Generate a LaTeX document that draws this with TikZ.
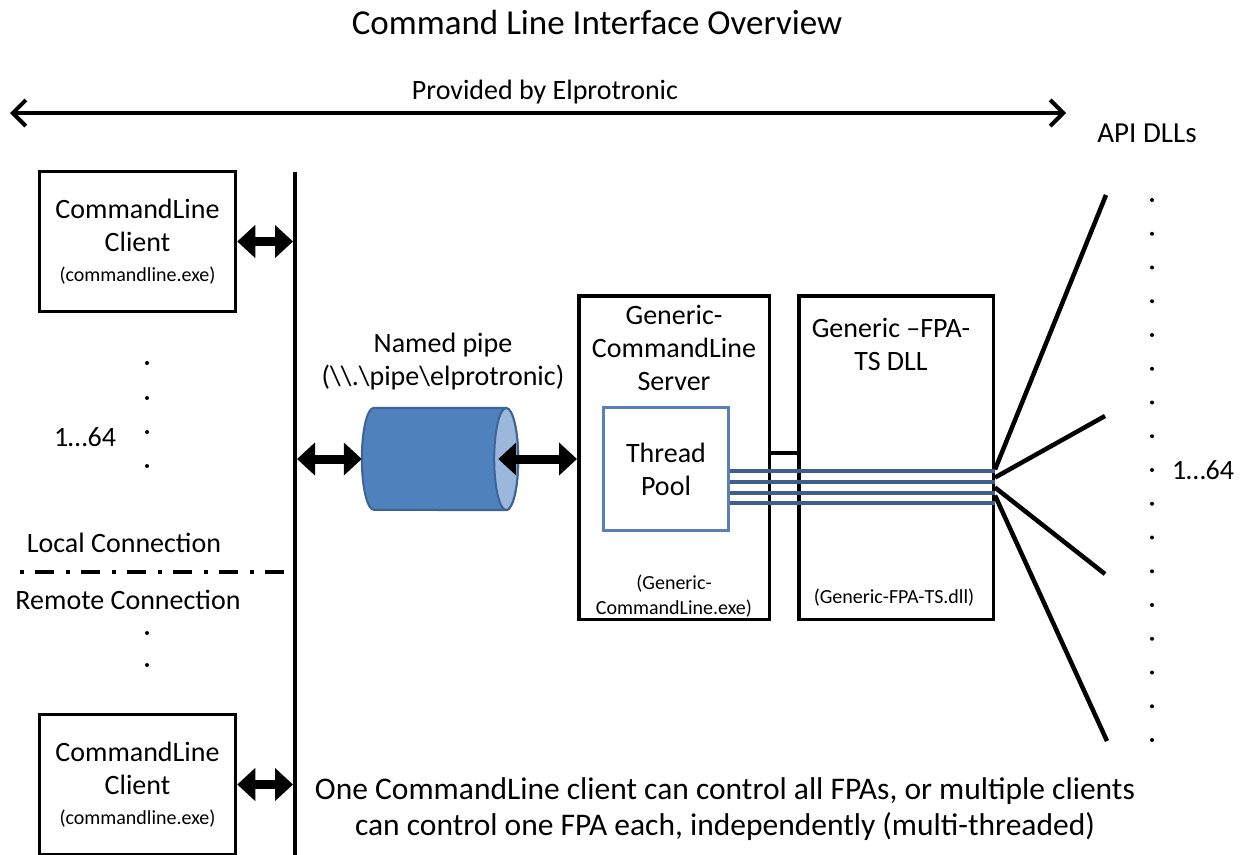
\documentclass[tikz,border=0pt]{standalone}
\usepackage{fontspec}
\setmainfont{Carlito}
\usepackage{xcolor}
\usetikzlibrary{arrows.meta,positioning}
\definecolor{pipeblue}{HTML}{4F81BD}
\definecolor{pipeline}{HTML}{3C6496}
\definecolor{pipelight}{HTML}{9BB8DC}
\definecolor{poolblue}{HTML}{5A80B8}
\definecolor{threadblue}{HTML}{3F5E8E}
\newcommand{\bigtxt}{\fontsize{28}{33}\selectfont}
\newcommand{\smalltxt}{\fontsize{20}{25}\selectfont}

\begin{document}
\begin{tikzpicture}[x=1pt,y=-1pt,font=\bigtxt]
	\tikzstyle{box}=[draw=black,line width=3.5pt,inner sep=0pt]
	\tikzstyle{client}=[box,minimum width=196pt,minimum height=140pt,align=center]
	\tikzstyle{bigbox}=[box,minimum height=323.5pt]
	\tikzstyle{fat}=[line width=9pt,{Triangle[length=18pt,width=32pt]}-{Triangle[length=18pt,width=32pt]}]
	\tikzstyle{thread}=[threadblue,line width=3.5pt]
	\tikzstyle{fan}=[line width=4.5pt]
	\useasboundingbox (0,0) rectangle (1249,854);
	\clip (0,0) rectangle (1249,854);

	\node[font=\fontsize{35}{42}\selectfont] (title) at (597,22) {Command Line Interface Overview};
	\node (prov) at (545,92) {Provided by Elprotronic};
	\coordinate (pl) at (10,113);
	\coordinate (pr) at (1066,113);
	\draw[line width=4pt,{Straight Barb[length=13pt,width=26pt]}-{Straight Barb[length=13pt,width=26pt]}] (pl) -- (pr);
	\node[font=\fontsize{29}{34}\selectfont] (api) at (1147,133) {API DLLs};

	\node[client] (cl1) at (137.5,241.5) {CommandLine\\Client\\[-3pt]{\smalltxt (commandline.exe)}};
	\node[client] (cl2) at (137.5,784.5) {CommandLine\\Client\\[-3pt]{\smalltxt (commandline.exe)}};
	\coordinate (bt) at (295,172);
	\coordinate (bb) at (295,860);
	\draw[line width=3.5pt] (bt) -- (bb);
	\draw[fat] (cl1.east) -- ([xshift=-2pt]cl1.east -| bt);
	\draw[fat] (cl2.east) -- ([xshift=-2pt]cl2.east -| bt);

	\foreach \y in {363,398,432,466,633,665}
		\fill (147,\y) circle (2pt);
	\node (n1) at (85,437) {1…64};
	\node (loc) at (124,543) {Local Connection};
	\coordinate (ll) at (20,572);
	\coordinate (lr) at (287,572);
	\draw[line width=4pt,dash pattern=on 4pt off 11pt on 19pt off 12pt] (ll) -- (lr);
	\node (rem) at (128,600) {Remote Connection};

	\node[align=center] (pipelbl) at (443,362) {Named pipe\\(\textbackslash\textbackslash.\textbackslash pipe\textbackslash elprotronic)};
	\node[minimum width=156pt,minimum height=102pt,inner sep=0pt] (pipe) at (440,459) {};
	\filldraw[fill=pipeblue,draw=pipeline,line width=2pt] ([xshift=-12pt]pipe.north east) -- ([xshift=12pt]pipe.north west)
		arc[start angle=270,end angle=90,x radius=12,y radius=51] -- ([xshift=-12pt]pipe.south east)
		arc[start angle=90,end angle=-90,x radius=12,y radius=51] -- cycle;
	\filldraw[fill=pipelight,draw=pipeline,line width=2pt] ([xshift=-12pt]pipe.east) ellipse[x radius=12,y radius=51];

	\node[bigbox,minimum width=190.5pt] (srv) at (674,457.5) {};
	\node[align=center,below=8pt of srv.north] (srvname) {Generic-\\CommandLine\\Server};
	\node[align=center,font=\smalltxt,above=0pt of srv.south] (srvexe) {(Generic-\\CommandLine.exe)};
	\node[draw=poolblue,line width=3pt,minimum width=125pt,minimum height=123pt,align=center,inner sep=0pt] (pool) at (666,469) {Thread\\Pool};

	\node[bigbox,minimum width=194.5pt] (fpa) at (896,457.5) {};
	\node[align=center,below=21pt of fpa.north,xshift=-5pt] (fpaname) {Generic --FPA-\\TS DLL};
	\node[font=\smalltxt,above=11pt of fpa.south,xshift=-2pt] (fpadll) {(Generic-FPA-TS.dll)};

	\draw[fat] ([xshift=2pt]pipe.west -| bt) -- (pipe.west);
	\draw[fat] ([xshift=-20pt]pipe.east) -- (pipe.east -| srv.west);
	\draw[line width=4pt] ([yshift=5pt]srv.east) -- ([yshift=5pt]fpa.west);
	\foreach \dy in {2,13,24,34}
		\draw[thread] ([yshift=-\dy pt]pool.east) -- ([yshift=-\dy pt]pool.east -| fpa.east);

	\coordinate (api1) at (1106,195);
	\coordinate (api2) at (1105,416);
	\coordinate (api3) at (1105,574);
	\coordinate (api4) at (1107,741);
	\foreach \a/\s in {api1/-12,api2/-20,api3/-30,api4/-38}
		\draw[fan] ([yshift=\s pt]fpa.east) -- (\a);
	\foreach \i in {0,...,16}
		\fill (1152,200+33.75*\i) circle (2pt);
	\node (n2) at (1203,470) {1…64};

	\node[align=center,font=\fontsize{31.5}{36}\selectfont] (note) at (725,809) {One CommandLine client can control all FPAs, or multiple clients\\can control one FPA each, independently (multi-threaded)};
\end{tikzpicture}
\end{document}
